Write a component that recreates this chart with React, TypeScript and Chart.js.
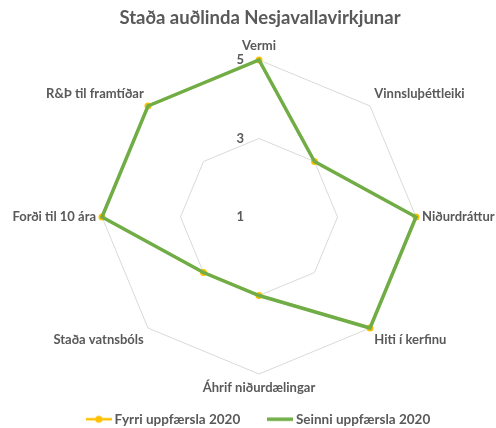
import React, { useEffect, useRef } from 'react';
import { Chart, registerables } from 'chart.js';

Chart.register(...registerables);

const chartTitle = 'Staða auðlinda Nesjavallavirkjunar';
const categories = [
  'Vermi',
  'Vinnsluþéttleiki',
  'Niðurdráttur',
  'Hiti í kerfinu',
  'Áhrif niðurdælingar',
  'Staða vatnsbóls',
  'Forði til 10 ára',
  'R&Þ til framtíðar',
];
const fyrriValues = [5, 3, 5, 5, 3, 3, 5, 5];
const seinniValues = [5, 3, 5, 5, 3, 3, 5, 5];
const seriesNames = ['Fyrri uppfærsla 2020', 'Seinni uppfærsla 2020'];
const scaleMin = 1;
const scaleMax = 5;
const scaleStep = 2;

const FONT = 'Lato, "Open Sans", sans-serif';
const TEXT = '#595959';
const YELLOW = '#FFC000';
const GREEN = '#70AD47';

// radar placement inside the 520px-wide canvas
const RADAR_CX = 259;
const RADAR_CY = 217;
const RADAR_R = 157;

function makeLegendImage(color: string, withDot: boolean, lw: number) {
  const c = document.createElement('canvas');
  c.width = 26;
  c.height = 10;
  const g = c.getContext('2d')!;
  g.strokeStyle = color;
  g.lineWidth = lw;
  g.beginPath();
  g.moveTo(0, 5);
  g.lineTo(26, 5);
  g.stroke();
  if (withDot) {
    g.fillStyle = color;
    g.beginPath();
    g.arc(13, 5, 3.5, 0, Math.PI * 2);
    g.fill();
  }
  return c;
}

const placeRadarPlugin = {
  id: 'placeRadar',
  beforeLayout(chart: any) {
    const s = chart.scales.r;
    if (s && !s._placed) {
      const orig = s.setCenterPoint.bind(s);
      s.setCenterPoint = function (l: number, r: number, t: number, b: number) {
        orig(l, r, t, b);
        this.xCenter = RADAR_CX;
        this.yCenter = RADAR_CY;
        this.drawingArea = RADAR_R;
      };
      s._placed = true;
    }
  },
};

const tickLabelPlugin = {
  id: 'tickLabelsLeft',
  afterDraw(chart: any) {
    const s = chart.scales.r;
    const ctx = chart.ctx;
    ctx.save();
    ctx.font = `bold 13px ${FONT}`;
    ctx.fillStyle = TEXT;
    ctx.textAlign = 'right';
    ctx.textBaseline = 'middle';
    s.ticks.forEach((t: any) => {
      const d = s.getDistanceFromCenterForValue(t.value);
      ctx.fillText(String(t.value), s.xCenter - 15, s.yCenter - d);
    });
    ctx.restore();
  },
};

export default function App() {
  const ref = useRef<HTMLCanvasElement>(null);
  useEffect(() => {
    const imgs = [makeLegendImage(YELLOW, true, 2.5), makeLegendImage(GREEN, false, 3.5)];
    const chart = new Chart(ref.current!, {
      type: 'radar',
      data: {
        labels: categories,
        datasets: [
          {
            label: seriesNames[0],
            data: fyrriValues,
            borderColor: YELLOW,
            backgroundColor: YELLOW,
            borderWidth: 2.5,
            pointRadius: 3.5,
            pointBackgroundColor: YELLOW,
            pointBorderWidth: 0,
            fill: false,
            order: 1,
          },
          {
            label: seriesNames[1],
            data: seinniValues,
            borderColor: GREEN,
            backgroundColor: GREEN,
            borderWidth: 3.5,
            pointRadius: 0,
            fill: false,
            order: 0,
          },
        ],
      },
      options: {
        responsive: false,
        animation: false,
        layout: { padding: { top: 0, bottom: -8, left: 0, right: 0 } },
        plugins: {
          title: {
            display: true,
            text: chartTitle,
            color: TEXT,
            font: { family: FONT, size: 18.5, weight: 'bold' },
            padding: { top: 7, bottom: 4 },
          },
          legend: {
            position: 'bottom',
            labels: {
              color: TEXT,
              font: { family: FONT, size: 13.5, weight: 'bold' },
              usePointStyle: true,
              pointStyleWidth: 18,
              padding: 31,
              sort: (a: any, b: any) => a.datasetIndex - b.datasetIndex,
              generateLabels: (c: any) => {
                const items = Chart.defaults.plugins.legend.labels.generateLabels(c);
                return items.map((it: any) => ({ ...it, pointStyle: imgs[it.datasetIndex] }));
              },
            },
          },
          tooltip: { enabled: false },
        },
        scales: {
          r: {
            min: scaleMin,
            max: scaleMax,
            ticks: { stepSize: scaleStep, display: false },
            grid: { color: '#D9D9D9', lineWidth: 1, circular: false },
            angleLines: { display: false },
            pointLabels: {
              color: TEXT,
              font: { family: FONT, size: 13, weight: 'bold' },
              padding: 6,
            },
          },
        },
      },
      plugins: [placeRadarPlugin, tickLabelPlugin],
    } as any);
    return () => chart.destroy();
  }, []);
  return (
    <div style={{ position: 'fixed', left: 0, top: 0, width: 496, height: 428, overflow: 'hidden', background: '#fff' }}>
      <canvas ref={ref} width={520} height={428} />
    </div>
  );
}
